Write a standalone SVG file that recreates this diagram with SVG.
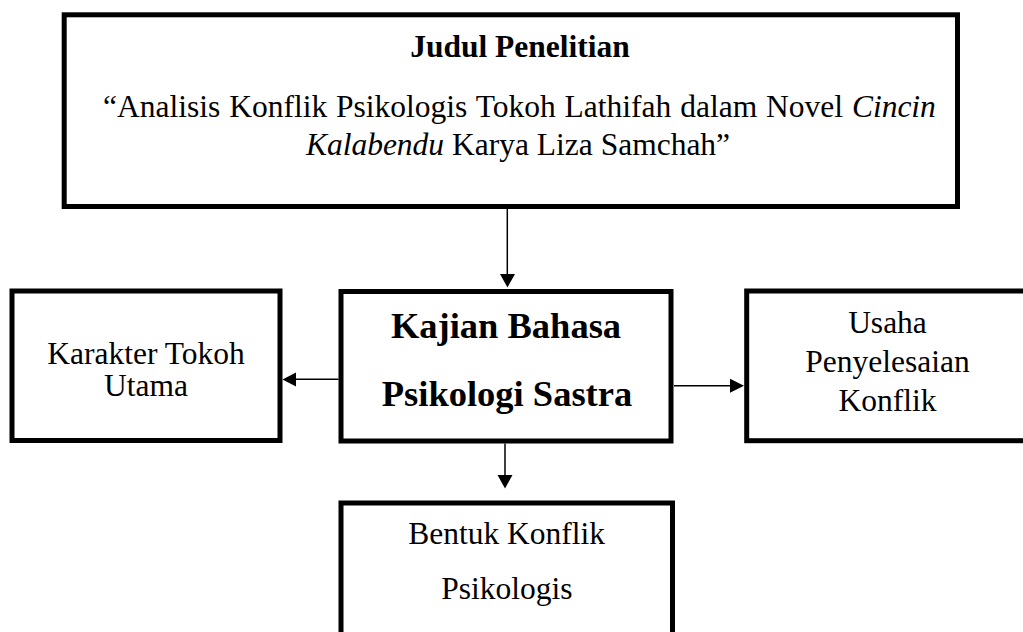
<svg xmlns="http://www.w3.org/2000/svg" width="1023" height="632" viewBox="0 0 1023 632">
<style>
.box{fill:#fff;stroke:#000;stroke-width:5}
.t{font-family:"Liberation Serif","Times New Roman",serif;font-size:31.5px;fill:#000;text-anchor:middle}
.b{font-weight:bold}
.big{font-size:36.5px}
.conn{stroke:#000;stroke-width:1.5;fill:none}
.head{fill:#000;stroke:none}
</style>
<rect width="1023" height="632" fill="#fff"/>
<g id="connectors">
<line class="conn" x1="507.3" y1="209" x2="507.3" y2="276"/>
<polygon class="head" points="500,274 515,274 507.5,287.5"/>
<line class="conn" x1="338.5" y1="379.3" x2="294" y2="379.3"/>
<polygon class="head" points="296,372.5 296,386.5 282.5,379.5"/>
<line class="conn" x1="674" y1="385.7" x2="732" y2="385.7"/>
<polygon class="head" points="730,378.7 730,392.7 744,385.7"/>
<line class="conn" x1="505" y1="443.5" x2="505" y2="477"/>
<polygon class="head" points="497.5,475 512.5,475 505,488.5"/>
</g>
<g id="node-judul">
<rect class="box" x="64.2" y="14.8" width="893.3" height="191.7"/>
<text class="t b" x="520" y="56.7">Judul Penelitian</text>
<text class="t" x="519.5" y="117" word-spacing="1">“Analisis Konflik Psikologis Tokoh Lathifah dalam Novel <tspan font-style="italic">Cincin</tspan></text>
<text class="t" x="518" y="155"><tspan font-style="italic">Kalabendu</tspan> Karya Liza Samchah”</text>
</g>
<g id="node-kajian">
<rect class="box" x="341" y="291.5" width="330" height="149.5"/>
<text class="t b big" x="506" y="338">Kajian Bahasa</text>
<text class="t b big" x="507" y="406">Psikologi Sastra</text>
</g>
<g id="node-karakter">
<rect class="box" x="12" y="291" width="268" height="149.5"/>
<text class="t" x="146" y="364">Karakter Tokoh</text>
<text class="t" x="146" y="396">Utama</text>
</g>
<g id="node-usaha">
<rect class="box" x="746.7" y="291" width="282" height="149.7"/>
<text class="t" x="887.5" y="333">Usaha</text>
<text class="t" x="887.5" y="371.7">Penyelesaian</text>
<text class="t" x="887.5" y="411">Konflik</text>
</g>
<g id="node-bentuk">
<rect class="box" x="341" y="503" width="331.5" height="160"/>
<text class="t" x="506.7" y="543.5">Bentuk Konflik</text>
<text class="t" x="506.8" y="599">Psikologis</text>
</g>
</svg>
